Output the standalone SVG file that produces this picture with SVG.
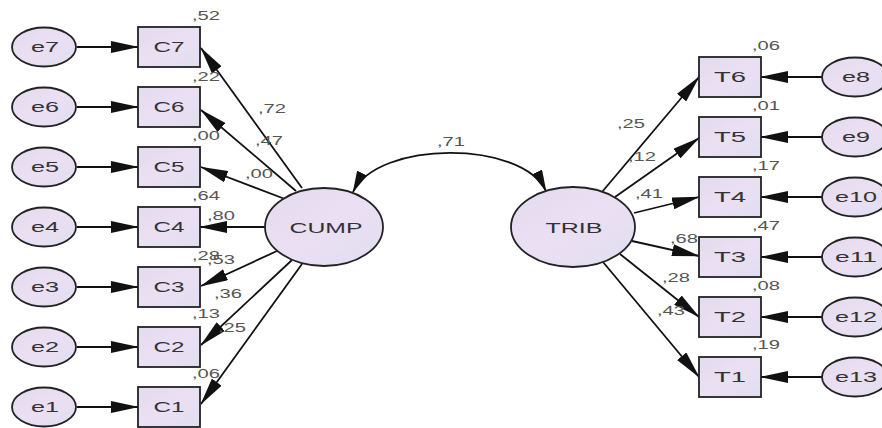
<svg xmlns="http://www.w3.org/2000/svg" width="882" height="428" viewBox="0 0 882 428">
<defs>
<linearGradient id="g" x1="0" y1="0" x2="1" y2="1">
<stop offset="0" stop-color="#e3dbee"/>
<stop offset="0.5" stop-color="#ebdff3"/>
<stop offset="1" stop-color="#e0def0"/>
</linearGradient>
<marker id="ah" viewBox="0 0 28 12" refX="27" refY="6" markerWidth="28" markerHeight="12" markerUnits="userSpaceOnUse" orient="auto-start-reverse">
<path d="M0,0 L28,6 L0,12 Z" fill="#111"/>
</marker>
<marker id="ah2" viewBox="0 0 22 11" refX="21" refY="5.5" markerWidth="22" markerHeight="11" markerUnits="userSpaceOnUse" orient="auto-start-reverse">
<path d="M0,0 L22,5.5 L0,11 Z" fill="#111"/>
</marker>
</defs>
<style>
.n{fill:url(#g);stroke:#222;stroke-width:1.8}
.t{font-family:"Liberation Sans",Arial,sans-serif;font-size:15px;fill:#333;text-anchor:middle}
.v{font-family:"Liberation Sans",Arial,sans-serif;font-size:12px;fill:#555}
.c{stroke:#111;stroke-width:1.8;fill:none;marker-end:url(#ah)}
</style>
<rect width="882" height="428" fill="#fff"/>

<g id="connectors">
<line class="c" x1="77" y1="47" x2="138" y2="47"/>
<line class="c" x1="77" y1="107" x2="138" y2="107"/>
<line class="c" x1="77" y1="167" x2="138" y2="167"/>
<line class="c" x1="77" y1="227" x2="138" y2="227"/>
<line class="c" x1="77" y1="287" x2="138" y2="287"/>
<line class="c" x1="77" y1="347" x2="138" y2="347"/>
<line class="c" x1="77" y1="407" x2="138" y2="407"/>
<line class="c" x1="302" y1="188" x2="201" y2="48"/>
<line class="c" x1="296" y1="191" x2="201" y2="110"/>
<line class="c" x1="285" y1="199" x2="201" y2="167"/>
<line class="c" x1="265" y1="227" x2="200" y2="227"/>
<line class="c" x1="277" y1="251" x2="201" y2="286"/>
<line class="c" x1="292" y1="260" x2="201" y2="345"/>
<line class="c" x1="302" y1="264" x2="201" y2="404"/>
<line class="c" x1="602" y1="192" x2="699" y2="77"/>
<line class="c" x1="615" y1="197" x2="699" y2="138"/>
<line class="c" x1="634" y1="213" x2="699" y2="197"/>
<line class="c" x1="632" y1="241" x2="699" y2="256"/>
<line class="c" x1="620" y1="254" x2="699" y2="317"/>
<line class="c" x1="603" y1="262" x2="699" y2="377"/>
<line class="c" x1="822" y1="77" x2="761" y2="77"/>
<line class="c" x1="822" y1="137" x2="761" y2="137"/>
<line class="c" x1="822" y1="197" x2="761" y2="197"/>
<line class="c" x1="822" y1="257" x2="761" y2="257"/>
<line class="c" x1="822" y1="317" x2="761" y2="317"/>
<line class="c" x1="822" y1="377" x2="761" y2="377"/>
<path d="M353,192 C378,140 522,140 546,191" stroke="#111" stroke-width="1.8" fill="none" marker-start="url(#ah2)" marker-end="url(#ah2)"/>
</g>

<g id="e7"><ellipse class="n" cx="44" cy="47" rx="32" ry="19.5"/><text class="t" x="45" y="52" textLength="28" lengthAdjust="spacingAndGlyphs">e7</text></g>
<g id="e6"><ellipse class="n" cx="44" cy="107" rx="32" ry="19.5"/><text class="t" x="45" y="112" textLength="28" lengthAdjust="spacingAndGlyphs">e6</text></g>
<g id="e5"><ellipse class="n" cx="44" cy="167" rx="32" ry="19.5"/><text class="t" x="45" y="172" textLength="28" lengthAdjust="spacingAndGlyphs">e5</text></g>
<g id="e4"><ellipse class="n" cx="44" cy="227" rx="32" ry="19.5"/><text class="t" x="45" y="232" textLength="28" lengthAdjust="spacingAndGlyphs">e4</text></g>
<g id="e3"><ellipse class="n" cx="44" cy="287" rx="32" ry="19.5"/><text class="t" x="45" y="292" textLength="28" lengthAdjust="spacingAndGlyphs">e3</text></g>
<g id="e2"><ellipse class="n" cx="44" cy="347" rx="32" ry="19.5"/><text class="t" x="45" y="352" textLength="28" lengthAdjust="spacingAndGlyphs">e2</text></g>
<g id="e1"><ellipse class="n" cx="44" cy="407" rx="32" ry="19.5"/><text class="t" x="45" y="412" textLength="28" lengthAdjust="spacingAndGlyphs">e1</text></g>

<g id="C7"><rect class="n" x="138" y="27" width="62" height="40"/><text class="t" x="169" y="52" textLength="31" lengthAdjust="spacingAndGlyphs">C7</text><text class="v" x="192" y="20" textLength="28" lengthAdjust="spacingAndGlyphs">,52</text></g>
<g id="C6"><rect class="n" x="138" y="87" width="62" height="40"/><text class="t" x="169" y="112" textLength="31" lengthAdjust="spacingAndGlyphs">C6</text><text class="v" x="192" y="81" textLength="28" lengthAdjust="spacingAndGlyphs">,22</text></g>
<g id="C5"><rect class="n" x="138" y="147" width="62" height="40"/><text class="t" x="169" y="172" textLength="31" lengthAdjust="spacingAndGlyphs">C5</text><text class="v" x="192" y="140" textLength="28" lengthAdjust="spacingAndGlyphs">,00</text></g>
<g id="C4"><rect class="n" x="138" y="207" width="62" height="40"/><text class="t" x="169" y="232" textLength="31" lengthAdjust="spacingAndGlyphs">C4</text><text class="v" x="192" y="200" textLength="28" lengthAdjust="spacingAndGlyphs">,64</text></g>
<g id="C3"><rect class="n" x="138" y="267" width="62" height="40"/><text class="t" x="169" y="292" textLength="31" lengthAdjust="spacingAndGlyphs">C3</text><text class="v" x="192" y="260" textLength="28" lengthAdjust="spacingAndGlyphs">,28</text></g>
<g id="C2"><rect class="n" x="138" y="327" width="62" height="40"/><text class="t" x="169" y="352" textLength="31" lengthAdjust="spacingAndGlyphs">C2</text><text class="v" x="192" y="318" textLength="28" lengthAdjust="spacingAndGlyphs">,13</text></g>
<g id="C1"><rect class="n" x="138" y="387" width="62" height="40"/><text class="t" x="169" y="412" textLength="31" lengthAdjust="spacingAndGlyphs">C1</text><text class="v" x="192" y="378" textLength="28" lengthAdjust="spacingAndGlyphs">,06</text></g>

<g id="CUMP"><ellipse class="n" cx="324" cy="227" rx="59" ry="39"/><text class="t" x="326" y="233" textLength="73" lengthAdjust="spacingAndGlyphs">CUMP</text></g>
<g id="TRIB"><ellipse class="n" cx="573" cy="227" rx="62" ry="40"/><text class="t" x="574" y="233" textLength="57" lengthAdjust="spacingAndGlyphs">TRIB</text></g>

<g id="T6"><rect class="n" x="699" y="57" width="62" height="40"/><text class="t" x="730" y="82" textLength="32" lengthAdjust="spacingAndGlyphs">T6</text><text class="v" x="752" y="50" textLength="28" lengthAdjust="spacingAndGlyphs">,06</text></g>
<g id="T5"><rect class="n" x="699" y="117" width="62" height="40"/><text class="t" x="730" y="142" textLength="32" lengthAdjust="spacingAndGlyphs">T5</text><text class="v" x="752" y="110" textLength="28" lengthAdjust="spacingAndGlyphs">,01</text></g>
<g id="T4"><rect class="n" x="699" y="177" width="62" height="40"/><text class="t" x="730" y="202" textLength="32" lengthAdjust="spacingAndGlyphs">T4</text><text class="v" x="752" y="170" textLength="28" lengthAdjust="spacingAndGlyphs">,17</text></g>
<g id="T3"><rect class="n" x="699" y="237" width="62" height="40"/><text class="t" x="730" y="262" textLength="32" lengthAdjust="spacingAndGlyphs">T3</text><text class="v" x="752" y="230" textLength="28" lengthAdjust="spacingAndGlyphs">,47</text></g>
<g id="T2"><rect class="n" x="699" y="297" width="62" height="40"/><text class="t" x="730" y="322" textLength="32" lengthAdjust="spacingAndGlyphs">T2</text><text class="v" x="752" y="290" textLength="28" lengthAdjust="spacingAndGlyphs">,08</text></g>
<g id="T1"><rect class="n" x="699" y="357" width="62" height="40"/><text class="t" x="730" y="382" textLength="32" lengthAdjust="spacingAndGlyphs">T1</text><text class="v" x="752" y="349" textLength="28" lengthAdjust="spacingAndGlyphs">,19</text></g>

<g id="e8"><ellipse class="n" cx="855" cy="77" rx="33" ry="19.5"/><text class="t" x="856" y="82" textLength="28" lengthAdjust="spacingAndGlyphs">e8</text></g>
<g id="e9"><ellipse class="n" cx="855" cy="137" rx="33" ry="19.5"/><text class="t" x="856" y="142" textLength="28" lengthAdjust="spacingAndGlyphs">e9</text></g>
<g id="e10"><ellipse class="n" cx="855" cy="197" rx="33" ry="19.5"/><text class="t" x="856" y="202" textLength="42" lengthAdjust="spacingAndGlyphs">e10</text></g>
<g id="e11"><ellipse class="n" cx="855" cy="257" rx="33" ry="19.5"/><text class="t" x="856" y="262" textLength="42" lengthAdjust="spacingAndGlyphs">e11</text></g>
<g id="e12"><ellipse class="n" cx="855" cy="317" rx="33" ry="19.5"/><text class="t" x="856" y="322" textLength="42" lengthAdjust="spacingAndGlyphs">e12</text></g>
<g id="e13"><ellipse class="n" cx="855" cy="377" rx="33" ry="19.5"/><text class="t" x="856" y="382" textLength="42" lengthAdjust="spacingAndGlyphs">e13</text></g>

<g id="path-labels">
<text class="v" x="258" y="113" textLength="28" lengthAdjust="spacingAndGlyphs">,72</text>
<text class="v" x="255" y="145" textLength="28" lengthAdjust="spacingAndGlyphs">,47</text>
<text class="v" x="245" y="178" textLength="28" lengthAdjust="spacingAndGlyphs">,00</text>
<text class="v" x="207" y="220" textLength="28" lengthAdjust="spacingAndGlyphs">,80</text>
<text class="v" x="207" y="264" textLength="28" lengthAdjust="spacingAndGlyphs">,53</text>
<text class="v" x="214" y="298" textLength="28" lengthAdjust="spacingAndGlyphs">,36</text>
<text class="v" x="218" y="332" textLength="28" lengthAdjust="spacingAndGlyphs">,25</text>
<text class="v" x="617" y="128" textLength="28" lengthAdjust="spacingAndGlyphs">,25</text>
<text class="v" x="628" y="161" textLength="28" lengthAdjust="spacingAndGlyphs">,12</text>
<text class="v" x="635" y="198" textLength="28" lengthAdjust="spacingAndGlyphs">,41</text>
<text class="v" x="670" y="243" textLength="28" lengthAdjust="spacingAndGlyphs">,68</text>
<text class="v" x="662" y="282" textLength="28" lengthAdjust="spacingAndGlyphs">,28</text>
<text class="v" x="657" y="315" textLength="28" lengthAdjust="spacingAndGlyphs">,43</text>
<text class="v" x="437" y="146" textLength="28" lengthAdjust="spacingAndGlyphs">,71</text>
</g>
</svg>
